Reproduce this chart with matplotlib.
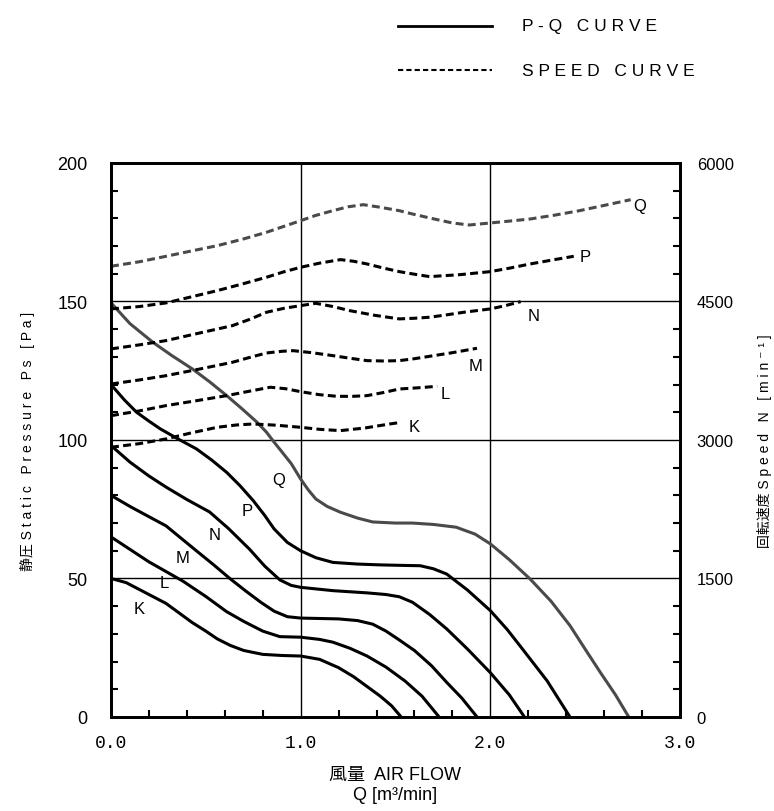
import matplotlib
matplotlib.use("Agg")
import matplotlib.pyplot as plt
from matplotlib import font_manager
from matplotlib.lines import Line2D
from matplotlib.ticker import MultipleLocator, FixedLocator

# P-Q curves (air flow m3/min, static pressure Pa)
k_q = [0, 0.08, 0.15, 0.22, 0.29, 0.36, 0.43, 0.50, 0.56, 0.63, 0.70, 0.80, 0.90, 1.00,
       1.10, 1.20, 1.28, 1.35, 1.42, 1.48, 1.53]
k_p = [50, 48.5, 46, 43.5, 41, 37.5, 34, 31, 28.2, 25.8, 24, 22.6, 22.2, 22,
       20.8, 17.8, 14.5, 11, 7.5, 4, 0]
l_q = [0, 0.10, 0.20, 0.29, 0.38, 0.50, 0.61, 0.70, 0.80, 0.89, 1.00, 1.10, 1.17, 1.26,
       1.35, 1.45, 1.55, 1.64, 1.73]
l_p = [65, 60.5, 56, 52.5, 49, 43.5, 38, 34.5, 31, 29, 28.8, 28, 27, 24.8,
       22, 18, 13, 7.5, 0]
m_q = [0, 0.10, 0.20, 0.29, 0.37, 0.45, 0.54, 0.63, 0.71, 0.79, 0.86, 0.93, 1.00, 1.20,
       1.30, 1.38, 1.45, 1.52, 1.60, 1.69, 1.77, 1.85, 1.93]
m_p = [80, 76, 72.3, 69, 64.5, 60, 55, 49.8, 45.5, 41.4, 38.2, 36.2, 35.7, 35.4,
       34.8, 33.5, 31, 27.8, 24, 18.5, 12.5, 6.8, 0]
n_q = [0, 0.10, 0.20, 0.29, 0.40, 0.52, 0.62, 0.73, 0.81, 0.89, 0.95, 1.00, 1.17, 1.35,
       1.45, 1.52, 1.59, 1.68, 1.77, 1.88, 2.00, 2.10, 2.18]
n_p = [98, 92, 87, 83, 78.5, 74, 68, 60.6, 54.5, 49.5, 47.5, 46.8, 45.6, 44.8,
       44.2, 43.4, 41.4, 37, 31.8, 24.5, 16, 8, 0]
p_q = [0, 0.07, 0.135, 0.20, 0.26, 0.35, 0.45, 0.53, 0.61, 0.68, 0.75, 0.81, 0.86, 0.93,
       1.00, 1.08, 1.17, 1.30, 1.42, 1.55, 1.63, 1.70, 1.77, 1.88, 2.00, 2.09, 2.17, 2.30, 2.42]
p_p = [120, 114.5, 110, 106.8, 104, 100.5, 96.8, 92.8, 88.3, 83.5, 78.1, 72.8, 67.9, 63,
       60, 57.5, 55.8, 55.2, 54.9, 54.7, 54.6, 53.5, 51.6, 45.8, 38.4, 31.5, 24.5, 13, 0]
q_q = [0, 0.10, 0.22, 0.32, 0.43, 0.52, 0.61, 0.69, 0.77, 0.82, 0.86, 0.90, 0.95, 1.00,
       1.04, 1.08, 1.14, 1.21, 1.30, 1.38, 1.50, 1.59, 1.70, 1.82, 1.92, 2.00, 2.10, 2.21,
       2.32, 2.42, 2.50, 2.58, 2.66, 2.73]
q_p = [149.5, 142, 135.3, 130.5, 125.6, 121, 116, 111.3, 106.4, 102.8, 99.2, 95.8, 91.5, 85.9,
       82, 78.7, 76, 73.9, 71.8, 70.4, 70, 70, 69.5, 68.5, 66, 62.5, 56.8, 49.8,
       41.8, 33, 24.5, 16.1, 8, 0]

# speed curves (air flow m3/min, speed min-1)
ks_q = [0, 0.15, 0.29, 0.42, 0.56, 0.66, 0.75, 0.87, 1.00, 1.10, 1.21, 1.34, 1.47, 1.53]
ks_n = [2921, 2960, 3011, 3075, 3137, 3162, 3173, 3160, 3137, 3115, 3101, 3130, 3173, 3191]
ls_q = [0, 0.15, 0.29, 0.45, 0.61, 0.73, 0.84, 0.92, 1.00, 1.10, 1.19, 1.27, 1.35, 1.44,
        1.52, 1.62, 1.72]
ls_n = [3263, 3315, 3372, 3425, 3480, 3528, 3571, 3555, 3523, 3490, 3473, 3472, 3480, 3515,
        3552, 3565, 3581]
ms_q = [0, 0.15, 0.29, 0.46, 0.64, 0.73, 0.82, 0.90, 0.96, 1.06, 1.17, 1.26, 1.35, 1.44,
        1.52, 1.60, 1.68, 1.80, 1.93]
ms_n = [3606, 3650, 3696, 3765, 3841, 3893, 3942, 3960, 3967, 3945, 3913, 3885, 3859, 3855,
        3859, 3880, 3906, 3945, 3993]
ns_q = [0, 0.15, 0.29, 0.46, 0.64, 0.73, 0.82, 0.91, 1.00, 1.08, 1.17, 1.26, 1.39, 1.52,
        1.60, 1.68, 1.77, 1.86, 2.00, 2.08, 2.16]
ns_n = [3986, 4030, 4076, 4155, 4238, 4305, 4383, 4425, 4455, 4480, 4445, 4400, 4350, 4311,
        4318, 4329, 4355, 4383, 4419, 4455, 4498]
ps_q = [0, 0.15, 0.29, 0.42, 0.56, 0.69, 0.82, 0.91, 1.00, 1.10, 1.21, 1.28, 1.35, 1.44,
        1.52, 1.60, 1.68, 1.84, 2.00, 2.10, 2.21, 2.33, 2.44]
ps_n = [4419, 4445, 4484, 4548, 4617, 4688, 4762, 4820, 4870, 4915, 4953, 4935, 4906, 4860,
        4823, 4795, 4769, 4790, 4823, 4860, 4906, 4950, 4989]
qs_q = [0, 0.15, 0.29, 0.42, 0.56, 0.69, 0.82, 0.91, 1.00, 1.08, 1.17, 1.25, 1.33, 1.42,
        1.52, 1.59, 1.70, 1.80, 1.89, 2.00, 2.10, 2.21, 2.34, 2.47, 2.60, 2.74]
qs_n = [4881, 4930, 4989, 5045, 5104, 5172, 5249, 5312, 5375, 5432, 5483, 5525, 5548, 5520,
        5483, 5447, 5395, 5350, 5328, 5350, 5370, 5393, 5435, 5483, 5540, 5602]

x_ticks = [0, 1, 2, 3]
x_labels = ["0.0", "1.0", "2.0", "3.0"]
ps_ticks = [0, 50, 100, 150, 200]
n_ticks = [0, 1500, 3000, 4500, 6000]

installed = {f.name for f in font_manager.fontManager.ttflist}
latin = "Liberation Sans Narrow" if "Liberation Sans Narrow" in installed else "Liberation Sans"
plt.rcParams["font.family"] = [latin, "Noto Sans CJK JP", "DejaVu Sans"]


def sp(s):
    # gesperrte Schrift wie im Original
    return " ".join(s)


fig = plt.figure(figsize=(7.74, 8.12), dpi=100)
ax = fig.add_axes([0.1434, 0.1158, 0.7351, 0.6823])
ax2 = ax.twinx()

grau = "#4a4a4a"
lw = 2.2
for qq, pp, c in [(k_q, k_p, "k"), (l_q, l_p, "k"), (m_q, m_p, "k"),
                  (n_q, n_p, "k"), (p_q, p_p, "k"), (q_q, q_p, grau)]:
    ax.plot(qq, pp, color=c, lw=lw, solid_capstyle="butt", solid_joinstyle="round")

for qq, nn, c in [(ks_q, ks_n, "k"), (ls_q, ls_n, "k"), (ms_q, ms_n, "k"),
                  (ns_q, ns_n, "k"), (ps_q, ps_n, "k"), (qs_q, qs_n, grau)]:
    ax2.plot(qq, nn, color=c, lw=lw, dashes=(2.6, 1.4), dash_joinstyle="round")

# Beschriftung der Kurven
for s, x, y in [("K", 0.15, 39), ("L", 0.28, 48.6), ("M", 0.38, 57.6),
                ("N", 0.545, 65.7), ("P", 0.72, 74.5), ("Q", 0.885, 85.9)]:
    ax.text(x, y, s, fontsize=12, ha="center", va="center")
for s, x, y in [("K", 1.6, 3150), ("L", 1.76, 3500), ("M", 1.92, 3805),
                ("N", 2.23, 4343), ("P", 2.5, 4982), ("Q", 2.79, 5534)]:
    ax2.text(x, y, s, fontsize=12, ha="center", va="center")

ax.set_xlim(0, 3)
ax.set_ylim(0, 200)
ax2.set_ylim(0, 6000)
ax.xaxis.set_major_locator(FixedLocator(x_ticks))
ax.set_xticklabels(x_labels, family="Liberation Mono", fontsize=13)
ax.xaxis.set_minor_locator(MultipleLocator(0.2))
ax.yaxis.set_major_locator(FixedLocator(ps_ticks))
ax.yaxis.set_minor_locator(MultipleLocator(10))
ax2.yaxis.set_major_locator(FixedLocator(n_ticks))
ax2.yaxis.set_minor_locator(MultipleLocator(300))

ax.grid(True, which="major", color="k", lw=1.0)
for a in (ax, ax2):
    for sp_ in a.spines.values():
        sp_.set_linewidth(2.0)
ax.tick_params(axis="both", which="both", direction="in", width=1.5)
ax.tick_params(axis="both", which="major", length=0)
ax.tick_params(axis="both", which="minor", length=5)
ax.tick_params(axis="x", pad=12)
ax.tick_params(axis="y", pad=17, labelsize=13)
ax2.tick_params(axis="y", which="both", direction="in", width=1.5, labelsize=12, pad=12)
ax2.tick_params(axis="y", which="major", length=0)
ax2.tick_params(axis="y", which="minor", length=5)

ax.set_xlabel("風量  AIR FLOW\nQ [m³/min]", fontsize=13, labelpad=11, linespacing=1.25)
ax.set_ylabel("静圧 " + sp("Static Pressure Ps [Pa]"), fontsize=10, labelpad=16)
ax2.set_ylabel("回転速度 " + sp("Speed N [min⁻¹]"), fontsize=10, labelpad=17)

# Legende oben
fig.add_artist(Line2D([398 / 774, 492 / 774], [1 - 27 / 812] * 2, color="k", lw=2))
fig.add_artist(Line2D([398 / 774, 492 / 774], [1 - 71 / 812] * 2, color="k", lw=1.5,
                      dashes=(2.5, 1.5)))
fig.text(522 / 774, 1 - 27 / 812, sp("P-Q CURVE"), fontsize=12.5, va="center")
fig.text(522 / 774, 1 - 71 / 812, sp("SPEED CURVE"), fontsize=12.5, va="center")

fig.savefig("out.png", dpi=100)
